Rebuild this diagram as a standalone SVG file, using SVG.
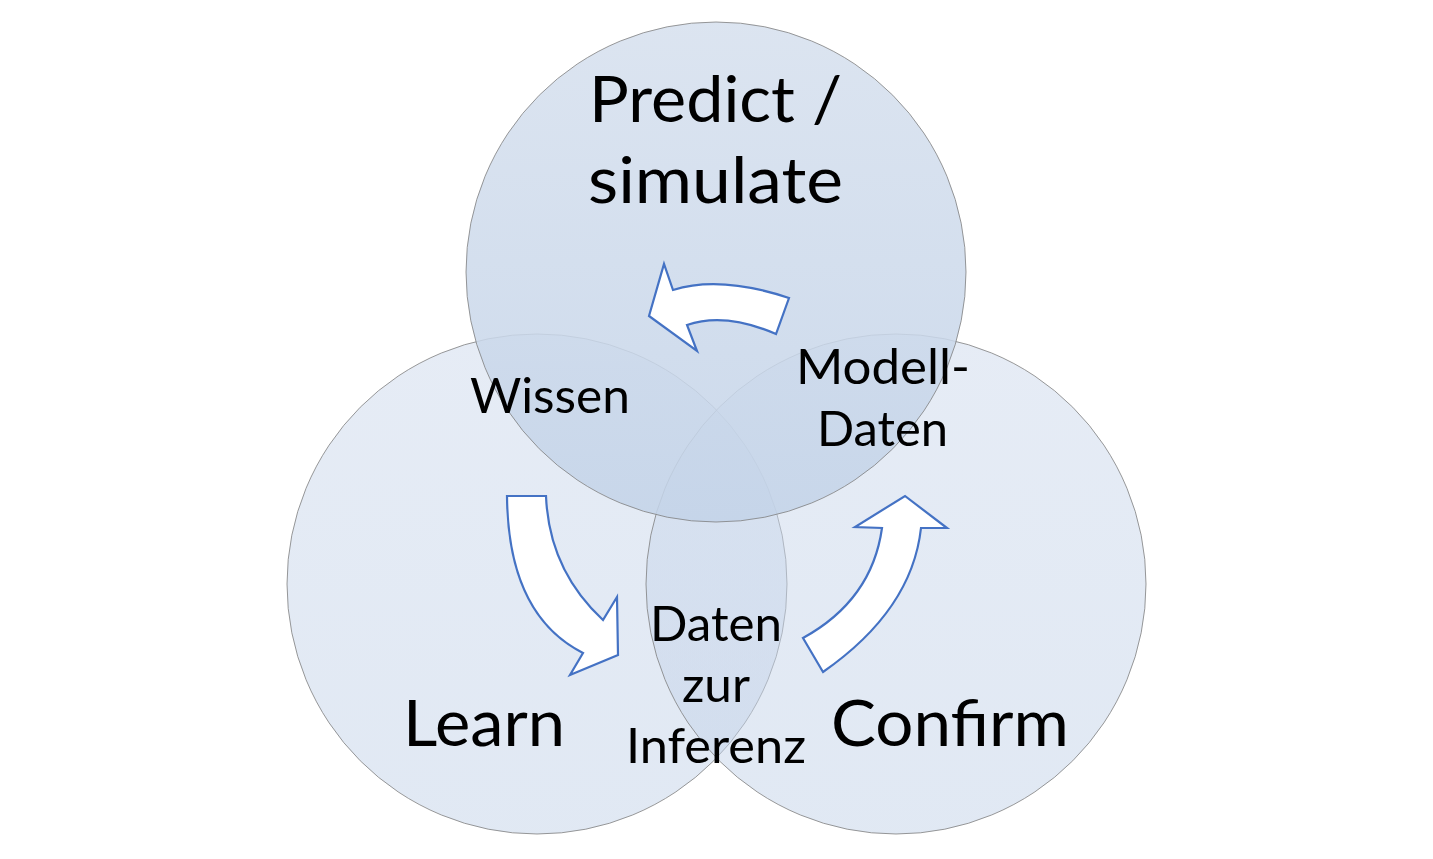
<svg xmlns="http://www.w3.org/2000/svg" width="1433" height="859" viewBox="0 0 1433 859">
<defs>
<linearGradient id="gTop" x1="0" y1="0" x2="0" y2="1">
<stop offset="0" stop-color="#d6e0ee"/>
<stop offset="1" stop-color="#c3d3e8"/>
</linearGradient>
<linearGradient id="gSide" x1="0" y1="0" x2="0" y2="1">
<stop offset="0" stop-color="#cdd9ec"/>
<stop offset="1" stop-color="#c2d2e8"/>
</linearGradient>
</defs>
<style>
.side{fill:url(#gSide);fill-opacity:0.5;stroke:#7f7f7f;stroke-width:1;stroke-opacity:0.8}
.top{fill:url(#gTop);fill-opacity:0.86;stroke:#7f7f7f;stroke-width:1;stroke-opacity:0.8}
.arrow{fill:#ffffff;stroke:#4472c4;stroke-width:2.2;stroke-linejoin:miter}
.big{font-family:Lato,"Open Sans","Liberation Sans",sans-serif;font-size:64px;fill:#000;text-anchor:middle}
.mid{font-family:Lato,"Open Sans","Liberation Sans",sans-serif;font-size:48px;fill:#000;text-anchor:middle}
</style>
<rect width="1433" height="859" fill="#ffffff"/>
<g id="learn">
<circle class="side" cx="537" cy="584" r="250"/>
</g>
<g id="confirm">
<circle class="side" cx="896" cy="584" r="250"/>
</g>
<g id="predict">
<circle class="top" cx="716" cy="272" r="250"/>
</g>
<g id="connectors">
<path class="arrow" d="M649,316 L664,264 L673,290 Q720,275 789,298 L776,334 Q725,312 687,325 L697,351 Z"/>
<path class="arrow" d="M507,496 L546,496 Q549,570 603,620 L617,597 L618,655 L570,675 L583,653 Q508,615 507,496 Z"/>
<path class="arrow" d="M803,638 L823,672 Q912,610 921,528 L947,528 L905,496 L855,527 L882,528 Q872,600 803,638 Z"/>
</g>
<g id="labels">
<text class="big" x="715.5" y="122" textLength="253" lengthAdjust="spacingAndGlyphs">Predict /</text>
<text class="big" x="715.5" y="203" textLength="255" lengthAdjust="spacingAndGlyphs">simulate</text>
<text class="big" x="484" y="746" textLength="162" lengthAdjust="spacingAndGlyphs">Learn</text>
<text class="big" x="950" y="746" textLength="238" lengthAdjust="spacingAndGlyphs">Confirm</text>
<text class="mid" x="550" y="413" textLength="160" lengthAdjust="spacingAndGlyphs">Wissen</text>
<text class="mid" x="883" y="384" textLength="174" lengthAdjust="spacingAndGlyphs">Modell-</text>
<text class="mid" x="882.5" y="446" textLength="131" lengthAdjust="spacingAndGlyphs">Daten</text>
<text class="mid" x="716" y="641" textLength="132" lengthAdjust="spacingAndGlyphs">Daten</text>
<text class="mid" x="716" y="702" textLength="68" lengthAdjust="spacingAndGlyphs">zur</text>
<text class="mid" x="716" y="763" textLength="180" lengthAdjust="spacingAndGlyphs">Inferenz</text>
</g>
</svg>
